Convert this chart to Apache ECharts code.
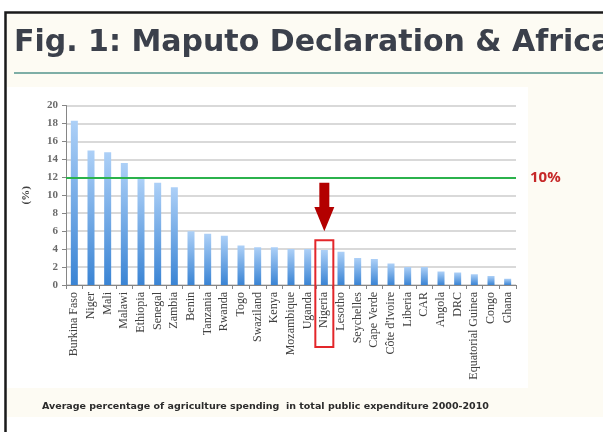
<!DOCTYPE html>
<html>
<head>
<meta charset="utf-8">
<script src="https://cdn.jsdelivr.net/npm/echarts@6/dist/echarts.min.js"></script>
<style>
html,body{margin:0;padding:0;background:#ffffff;}
#c{width:603px;height:432px;}
</style>
</head>
<body>
<div id="c"></div>
<script>
var categories = ["Burkina Faso","Niger","Mali","Malawi","Ethiopia","Senegal","Zambia","Benin","Tanzania","Rwanda","Togo","Swaziland","Kenya","Mozambique","Uganda","Nigeria","Lesotho","Seychelles","Cape Verde","Côte d'Ivoire","Liberia","CAR","Angola","DRC","Equatorial Guinea","Congo","Ghana"];
var spending = [18.3,15.0,14.8,13.6,11.9,11.4,10.9,6.0,5.7,5.5,4.4,4.2,4.2,4.0,4.0,3.9,3.7,3.0,2.9,2.4,2.0,2.0,1.5,1.4,1.2,1.0,0.7];
var yTicks = [0,2,4,6,8,10,12,14,16,18,20];
var targetLine = 12;
var targetLabel = "10%";
var highlight = "Nigeria";
var titleText = "Fig. 1: Maputo Declaration & Africa";
var captionText = "Average percentage of agriculture spending  in total public expenditure 2000-2010";

var chart = echarts.init(document.getElementById('c'), null, {renderer:'canvas'});

var bg = [
  {type:'rect', z:-10, shape:{x:0,y:0,width:603,height:432}, style:{fill:'#ffffff'}},
  {type:'rect', z:-9, shape:{x:7,y:14,width:600,height:403}, style:{fill:'#fdfbf3'}},
  {type:'rect', z:-8, shape:{x:7,y:87,width:521,height:301}, style:{fill:'#ffffff'}},
  {type:'rect', z:-7, shape:{x:5.5,y:12.5,width:620,height:440}, style:{fill:'none', stroke:'#1a1a1a', lineWidth:2.5}},
  {type:'line', z:-7, shape:{x1:14,y1:73,x2:603,y2:73}, style:{stroke:'#7eaea6', lineWidth:2}},
  {type:'text', z:5, left:14, top:28, style:{text:titleText, font:'bold 30px "DejaVu Sans"', fill:'#3b404b'}},
  {type:'text', z:5, left:42, top:402, style:{text:captionText, font:'bold 9.5px "DejaVu Sans"', fill:'#2b2b2b'}}
];

chart.setOption({
  animation:false,
  graphic: bg,
  grid:{left:66, right:87, top:105.5, bottom:147},
  xAxis:{
    type:'category',
    data:categories,
    axisLine:{lineStyle:{color:'#868686', width:1}},
    axisTick:{show:true, length:4, lineStyle:{color:'#868686'}},
    axisLabel:{rotate:90, interval:0, margin:7, fontFamily:'Liberation Serif', fontSize:12, color:'#404040'}
  },
  yAxis:{
    type:'value', min:0, max:20, interval:2,
    name:'(%)', nameLocation:'middle', nameGap:34, nameRotate:90,
    nameTextStyle:{fontFamily:'Liberation Serif', fontWeight:'bold', fontSize:11, color:'#404040'},
    axisLine:{show:true, lineStyle:{color:'#868686'}},
    axisTick:{show:true, length:4, lineStyle:{color:'#868686'}},
    axisLabel:{margin:8, fontFamily:'Liberation Serif', fontWeight:'bold', fontSize:11, color:'#6a6a6a',
      formatter:function(v){return yTicks.indexOf(v)>=0 ? String(v) : '';}},
    splitLine:{lineStyle:{color:'#cccccc', width:1.5}}
  },
  series:[{
    type:'bar',
    data:spending,
    barWidth:7,
    itemStyle:{color:new echarts.graphic.LinearGradient(0,0,0,1,[{offset:0,color:'#add0f7'},{offset:1,color:'#3a84d4'}])},
    markLine:{
      silent:true, symbol:'none',
      data:[{yAxis:targetLine}],
      lineStyle:{color:'#2bb24c', width:2, type:'solid'},
      label:{show:true, position:'end', distance:14, formatter:targetLabel, color:'#c62828', fontWeight:'bold', fontSize:15, fontFamily:'Open Sans'}
    }
  }]
});

// annotations anchored to the highlighted category
var cx = chart.convertToPixel({xAxisIndex:0}, highlight);
var yTop = chart.convertToPixel({yAxisIndex:0}, 5);
var y0 = chart.convertToPixel({yAxisIndex:0}, 0);
var yTip = chart.convertToPixel({yAxisIndex:0}, 6);
var yHead = chart.convertToPixel({yAxisIndex:0}, 8.7);
var yShaft = chart.convertToPixel({yAxisIndex:0}, 11.4);
var ann = bg.concat([
  {type:'rect', z:20, shape:{x:cx-9, y:yTop, width:18, height:(y0-yTop)+62}, style:{fill:'none', stroke:'#e3262a', lineWidth:2}},
  {type:'polygon', z:20, shape:{points:[[cx-5,yShaft],[cx+5,yShaft],[cx+5,yHead],[cx+10,yHead],[cx,yTip],[cx-10,yHead],[cx-5,yHead]]}, style:{fill:'#b30000'}}
]);
chart.setOption({graphic: ann});
</script>
</body>
</html>
